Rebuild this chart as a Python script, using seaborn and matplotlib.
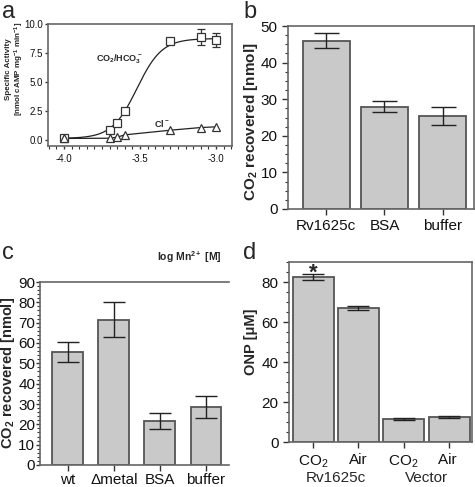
import matplotlib
matplotlib.use('Agg')
import matplotlib.pyplot as plt
from matplotlib.ticker import MultipleLocator
import numpy as np
import pandas as pd
import seaborn as sns

# ---- panel a: Mn2+ dose response ----
LOG_MN = [-4.0, -3.7, -3.65, -3.6, -3.3, -3.1, -3.0]
ACT_CO2 = [0.15, 0.92, 1.47, 2.5, 8.56, 8.85, 8.6]
ACT_CO2_ERR = [0.0, 0.0, 0.0, 0.0, 0.15, 0.68, 0.6]
ACT_CL = [0.15, 0.17, 0.26, 0.46, 0.86, 1.09, 1.15]
# sigmoidal fit for CO2/HCO3-
FIT_BOTTOM, FIT_TOP, FIT_EC50, FIT_HILL = 0.15, 8.75, -3.52, 5.3

# ---- panel b ----
B_CATS = ['Rv1625c', 'BSA', 'buffer']
B_VALS = [46.0, 28.0, 25.5]
B_ERR = [2.0, 1.5, 2.5]

# ---- panel c ----
C_CATS = ['wt', '\u0394metal', 'BSA', 'buffer']
C_VALS = [55.5, 71.5, 21.5, 28.5]
C_ERR = [5.0, 8.5, 4.0, 5.5]

# ---- panel d ----
D_CATS = ['CO$_2$', 'Air', 'CO$_2$ ', 'Air ']
D_GROUPS = ['Rv1625c', 'Vector']
D_VALS = [82.5, 67.0, 11.5, 12.5]
D_ERR = [1.3, 0.9, 0.3, 0.6]

W, H = 475, 487
BAR_FACE = '#c9c9c9'
BAR_EDGE = '#555555'
SPINE = '#666666'

sns.set_theme(style='white')
plt.rcParams['font.family'] = ['Liberation Sans', 'DejaVu Sans']
plt.rcParams['mathtext.default'] = 'regular'
plt.rcParams['axes.edgecolor'] = SPINE


def _rect(l, r, t, b):
    return [l / W, 1 - b / H, (r - l) / W, (b - t) / H]


def _ticks(ax, size):
    ax.tick_params(axis='both', which='major', direction='out', length=4, width=1,
                   labelsize=size, left=True, bottom=True, colors='#333333')
    ax.tick_params(axis='both', which='minor', direction='out', length=2, width=0.8,
                   left=True, bottom=True, colors='#333333')
    ax.tick_params(labelcolor='#111111')
    for s in ax.spines.values():
        s.set_linewidth(1.2)
        s.set_color(SPINE)


def _bars(ax, cats, vals, errs, width, capsize):
    df = pd.DataFrame({'cat': cats, 'val': vals})
    sns.barplot(data=df, x='cat', y='val', color=BAR_FACE, width=width,
                edgecolor=BAR_EDGE, linewidth=1.3, saturation=1, ax=ax)
    ax.errorbar(np.arange(len(cats)), vals, yerr=errs, fmt='none', ecolor='#222222',
                elinewidth=1, capsize=capsize, capthick=1)
    ax.set_xlabel('')
    ax.set_ylabel('')


def _ylabel(fig, text, cx, cy, size, **kw):
    # rotated axis title placed by its centre, in picture pixels
    fig.text(cx / W, 1 - cy / H, text, fontsize=size, fontweight='bold', rotation=90,
             rotation_mode='anchor', ha='center', va='center', multialignment='center', **kw)


fig = plt.figure(figsize=(W / 100, H / 100), dpi=100)

# ---------------- a ----------------
ax = fig.add_axes(_rect(48, 232, 24, 146))
xs = np.linspace(-4.0, -3.0, 200)
fit = FIT_BOTTOM + (FIT_TOP - FIT_BOTTOM) / (1 + 10 ** ((FIT_EC50 - xs) * FIT_HILL))
sns.lineplot(x=xs, y=fit, color='#222222', linewidth=0.9, ax=ax)
sns.lineplot(x=LOG_MN, y=ACT_CL, color='#222222', linewidth=0.9, ax=ax)
ax.errorbar(LOG_MN, ACT_CO2, yerr=ACT_CO2_ERR, fmt='none', ecolor='#333333',
            elinewidth=0.9, capsize=3, capthick=0.9)
ax.plot(LOG_MN, ACT_CO2, 's', ms=5.5, mfc='white', mec='#333333', mew=0.9)
ax.plot(LOG_MN, ACT_CL, '^', ms=5.5, mfc='white', mec='#333333', mew=0.9)
ax.set_xlim(-4.105, -2.895)
ax.set_ylim(-0.5, 10)
ax.set_xticks([-4.0, -3.5, -3.0])
ax.set_xticklabels(['-4.0', '-3.5', '-3.0'])
ax.xaxis.set_minor_locator(MultipleLocator(0.05))
ax.set_yticks([0, 2.5, 5.0, 7.5, 10.0])
ax.set_yticklabels(['0.0', '2.5', '5.0', '7.5', '10.0'])
_ticks(ax, 7)
ax.tick_params(axis='both', which='major', length=2.5)
ax.tick_params(axis='y', pad=1)
_ylabel(fig, 'Specific Activity\n[nmol cAMP mg$^{-1}$ min$^{-1}$]', 15.5, 69, 5.8,
        linespacing=1.15)
ax.text(-3.48, 7.0, 'CO$_2$/HCO$_3^-$', fontsize=6.5, fontweight='bold', ha='right', va='center')
ax.text(-3.355, 1.4, 'Cl$^-$', fontsize=6.5, fontweight='bold', ha='center', va='center')
fig.text(222 / W, 1 - 257 / H, 'log Mn$^{2+}$ [M]', fontsize=7.5, fontweight='bold',
         ha='right', va='center')

# ---------------- b ----------------
ax = fig.add_axes(_rect(288, 474, 26, 209))
_bars(ax, B_CATS, B_VALS, B_ERR, 0.8, 9)
ax.set_xlim(-0.66, 2.54)
ax.set_ylim(0, 50)
ax.yaxis.set_major_locator(MultipleLocator(10))
ax.yaxis.set_minor_locator(MultipleLocator(2.5))
_ticks(ax, 11)
_ylabel(fig, 'CO$_2$ recovered [nmol]', 251, 121.5, 11)

# ---------------- c ----------------
ax = fig.add_axes(_rect(40, 229, 282, 465))
_bars(ax, C_CATS, C_VALS, C_ERR, 0.67, 8)
ax.set_xlim(-0.6, 3.5)
ax.set_ylim(0, 90)
ax.yaxis.set_major_locator(MultipleLocator(10))
ax.yaxis.set_minor_locator(MultipleLocator(2))
ax.spines['right'].set_visible(False)
_ticks(ax, 11)
ax.tick_params(axis='x', pad=2)
ax.tick_params(axis='y', which='major', length=3, pad=0.5)
_ylabel(fig, 'CO$_2$ recovered [nmol]', 8.5, 373, 10.5)

# ---------------- d ----------------
ax = fig.add_axes(_rect(289, 472, 262, 442))
_bars(ax, D_CATS, D_VALS, D_ERR, 0.9, 8)
ax.set_xlim(-0.53, 3.5)
ax.set_ylim(0, 90)
ax.yaxis.set_major_locator(MultipleLocator(20))
ax.yaxis.set_minor_locator(MultipleLocator(5))
_ticks(ax, 11)
ax.tick_params(axis='x', pad=4)
_ylabel(fig, 'ONP [\u03bcM]', 251.5, 342, 10.5)
ax.text(0, 84.5, '*', fontsize=16, fontweight='bold', ha='center', va='center')
for i, g in enumerate(D_GROUPS):
    ax.text(2 * i + 0.5, -35.5 / 180, g, transform=ax.get_xaxis_transform(),
            fontsize=11, ha='center', va='center')

# panel letters
for lab, x, y in [('a', 2, 12), ('b', 243, 12), ('c', 2, 253), ('d', 243, 253)]:
    fig.text(x / W, 1 - y / H, lab, fontsize=17, ha='left', va='center')

fig.savefig('out.png', dpi=100)
